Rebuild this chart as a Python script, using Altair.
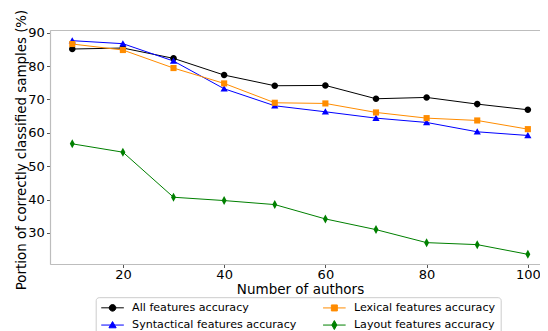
import altair as alt
import pandas as pd

authors = [10, 20, 30, 40, 50, 60, 70, 80, 90, 100]
all_acc = [85.1, 85.4, 82.3, 77.3, 74.1, 74.2, 70.2, 70.6, 68.6, 66.9]
lexical_acc = [86.6, 84.8, 79.4, 74.8, 69.0, 68.8, 66.1, 64.4, 63.7, 61.1]
syntactical_acc = [87.6, 86.7, 81.5, 73.2, 68.1, 66.3, 64.4, 63.1, 60.3, 59.2]
layout_acc = [56.7, 54.2, 40.7, 39.7, 38.5, 34.2, 31.0, 27.1, 26.5, 23.6]

names = ["All features accuracy", "Syntactical features accuracy",
         "Lexical features accuracy", "Layout features accuracy"]
series_values = [all_acc, syntactical_acc, lexical_acc, layout_acc]
colors = {"All features accuracy": "#000000",
          "Lexical features accuracy": "#ff8c00",
          "Syntactical features accuracy": "#0000ff",
          "Layout features accuracy": "#008000"}
marker_paths = {
    "All features accuracy": "M0.73,0A0.73,0.73,0,1,1,-0.73,0A0.73,0.73,0,1,1,0.73,0Z",
    "Lexical features accuracy": "M-0.68,-0.68H0.68V0.68H-0.68Z",
    "Syntactical features accuracy": "M0,-0.78L0.8,0.62H-0.8Z",
    "Layout features accuracy": "M0,-1L0.55,0L0,1L-0.55,0Z",
}
legend_paths = {
    "All features accuracy": "M-2.26,0H2.26M0.66,0A0.66,0.66,0,1,1,-0.66,0A0.66,0.66,0,1,1,0.66,0Z",
    "Lexical features accuracy": "M-2.26,0H2.26M-0.6,-0.6H0.6V0.6H-0.6Z",
    "Syntactical features accuracy": "M-2.26,0H2.26M0,-0.7L0.72,0.55H-0.72Z",
    "Layout features accuracy": "M-2.26,0H2.26M0,-0.9L0.5,0L0,0.9L-0.5,0Z",
}
legend_order = ["All features accuracy", "Lexical features accuracy",
                "Syntactical features accuracy", "Layout features accuracy"]

rows = []
for i, (n, vals) in enumerate(zip(names, series_values)):
    for a, v in zip(authors, vals):
        rows.append({"authors": a, "acc": v, "series": n, "marker": n, "draw": i})
df = pd.DataFrame(rows)

FONT = "DejaVu Sans"
SPINE = "#bdbdbd"
x_scale = alt.Scale(domain=[5.6, 102.4], nice=False, zero=False)

x = alt.X("authors:Q", scale=x_scale,
          axis=alt.Axis(values=[20, 40, 60, 80, 100], title="Number of authors",
                        grid=False, domain=True, domainColor=SPINE, domainWidth=1.2,
                        tickSize=3.5, tickColor="#555555",
                        labelPadding=1.2, labelFontSize=13, labelFont=FONT,
                        labelColor="#000000", titleFontSize=13.5, titleFont=FONT,
                        titleFontWeight="normal", titleColor="#000000",
                        titleX=250, titleY=29.3, titleBaseline="alphabetic",
                        titleAlign="center"))
x_top = alt.X("authors:Q", scale=x_scale,
              axis=alt.Axis(orient="top", title=None, labels=False, ticks=False,
                            grid=False, domain=True, domainColor=SPINE, domainWidth=1.2))
y = alt.Y("acc:Q", scale=alt.Scale(domain=[20.7, 90.8], nice=False, zero=False),
          axis=alt.Axis(values=[30, 40, 50, 60, 70, 80, 90],
                        title="Portion of correctly classified samples (%)",
                        grid=False, domain=True, domainColor=SPINE, domainWidth=1.2,
                        tickSize=3.5, tickColor="#555555",
                        labelPadding=2.2, labelFontSize=13, labelFont=FONT,
                        labelColor="#000000", titleFontSize=13.4, titleFont=FONT,
                        titleFontWeight="normal", titleColor="#000000",
                        titleAngle=-90, titleX=-24.5, titleY=119.5,
                        titleBaseline="alphabetic", titleAlign="center"))

color_scale = alt.Scale(domain=legend_order, range=[colors[n] for n in legend_order])
shape_scale = alt.Scale(domain=legend_order, range=[marker_paths[n] for n in legend_order])


def pick(mapping):
    expr = repr(mapping[legend_order[3]])
    for n in reversed(legend_order[:3]):
        expr = f"datum.value === {n!r} ? {mapping[n]!r} : ({expr})"
    return expr


legend = alt.Legend(
    title=None, orient="none", legendX=45.7, legendY=267.2, columns=2,
    direction="horizontal",
    labelFont=FONT, labelFontSize=11.1, labelColor="#000000", labelLimit=400,
    symbolSize=100, symbolStrokeWidth=1, symbolOffset=6.3, labelOffset=14,
    columnPadding=23.8, rowPadding=5.3, padding=5,
    strokeColor="#cccccc", fillColor="#ffffff", cornerRadius=3,
    symbolType=alt.ExprRef(pick(legend_paths)),
    symbolFillColor=alt.ExprRef(pick(colors)),
    symbolStrokeColor=alt.ExprRef(pick(colors)),
    symbolOpacity=1,
)

lines = alt.Chart(df).mark_line(strokeWidth=1).encode(
    x=x, y=y,
    color=alt.Color("series:N", scale=color_scale, legend=legend),
    detail="series:N",
    order="authors:Q",
)
points = alt.Chart(df).mark_point(filled=True, opacity=1, size=81, strokeWidth=0.5).encode(
    x=x_top, y=y,
    color=alt.Color("marker:N", scale=color_scale, legend=None),
    shape=alt.Shape("marker:N", scale=shape_scale, legend=None),
    order="draw:Q",
)

chart = alt.layer(lines, points).resolve_scale(
    color="independent", shape="independent"
).resolve_axis(x="independent").properties(
    width=490, height=234,
    autosize=alt.AutoSizeParams(type="none"),
    padding={"left": 42, "top": 22, "right": 0, "bottom": 70},
).configure_view(stroke=None).configure(background="#ffffff")

chart.save("out.html", embed_options={"renderer": "svg", "actions": False})
